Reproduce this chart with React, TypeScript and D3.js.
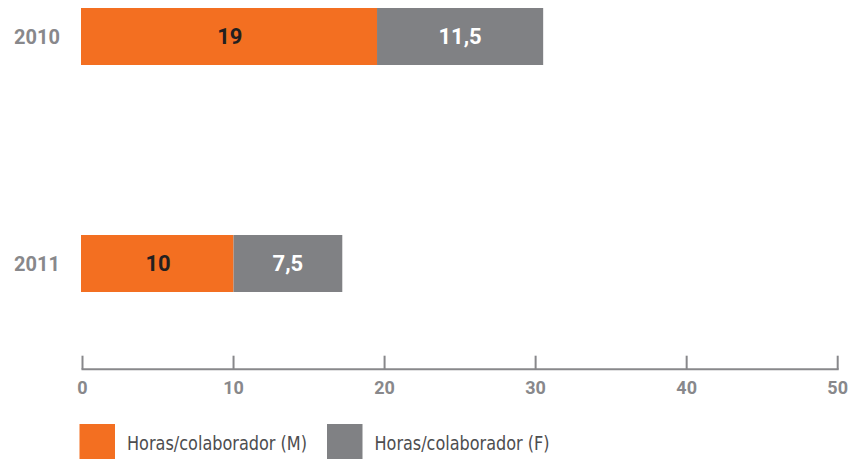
import React from "react";
import * as d3 from "d3";

const years = ["2010", "2011"];
const valuesM = [19.5, 10];
const valuesF = [11, 7.2];
const labelsM = ["19", "10"];
const labelsF = ["11,5", "7,5"];
const ticks = [0, 10, 20, 30, 40, 50];
const seriesNames = ["Horas/colaborador (M)", "Horas/colaborador (F)"];
const colors = ["#F36F21", "#808184"];

const W = 852;
const H = 459;

export default function App() {
  const x = d3.scaleLinear().domain([0, 50]).range([82.5, 837.7]);
  const y = d3.scalePoint<string>().domain(years).range([36.5, 263.5]);
  const barH = 57;
  const axisY = 369.3;
  const grey = "#88888b";
  const boldFont = "Roboto, 'DejaVu Sans', sans-serif";
  const narrowFont = "'Liberation Sans Narrow', 'DejaVu Sans Condensed', sans-serif";

  return (
    <svg width={W} height={H} style={{ position: "absolute", left: 0, top: 0, background: "#fff" }}>
      {years.map((yr, i) => {
        const cy = y(yr) as number;
        const x0 = x(0);
        const x1 = x(valuesM[i]);
        const x2 = x(valuesM[i] + valuesF[i]);
        return (
          <g key={yr}>
            <text x={60} y={cy} dy="0.36em" textAnchor="end" fontFamily={boldFont} fontWeight={700} fontSize={20} fill={grey}>
              {yr}
            </text>
            <rect x={x0 - 1.5} y={cy - barH / 2} width={x1 - x0 + 1.5} height={barH} fill={colors[0]} />
            <rect x={x1} y={cy - barH / 2} width={x2 - x1} height={barH} fill={colors[1]} />
            <text x={(x0 + x1) / 2} y={cy} dy="0.36em" textAnchor="middle" fontFamily={boldFont} fontWeight={700} fontSize={22} fill="#231f20">
              {labelsM[i]}
            </text>
            <text x={(x1 + x2) / 2} y={cy} dy="0.36em" textAnchor="middle" fontFamily={boldFont} fontWeight={700} fontSize={22} fill="#ffffff">
              {labelsF[i]}
            </text>
          </g>
        );
      })}
      <g>
        <line x1={x(0) - 1} x2={x(50) + 1} y1={axisY} y2={axisY} stroke={grey} strokeWidth={2} />
        {ticks.map((t) => (
          <g key={t}>
            <line x1={x(t)} x2={x(t)} y1={axisY} y2={axisY - 13.6} stroke={grey} strokeWidth={2} />
            <text x={x(t)} y={394} textAnchor="middle" fontFamily={boldFont} fontWeight={700} fontSize={18} fill={grey}>
              {t}
            </text>
          </g>
        ))}
      </g>
      <g>
        {seriesNames.map((name, i) => {
          const lx = i === 0 ? 79.5 : 327;
          return (
            <g key={name}>
              <rect x={lx} y={424} width={35.5} height={36} fill={colors[i]} />
              <text x={lx + 47.5} y={450} fontFamily={narrowFont} fontSize={20} fill="#4d4d4f" textLength={i === 0 ? 180 : 175} lengthAdjust="spacingAndGlyphs">
                {name}
              </text>
            </g>
          );
        })}
      </g>
    </svg>
  );
}
